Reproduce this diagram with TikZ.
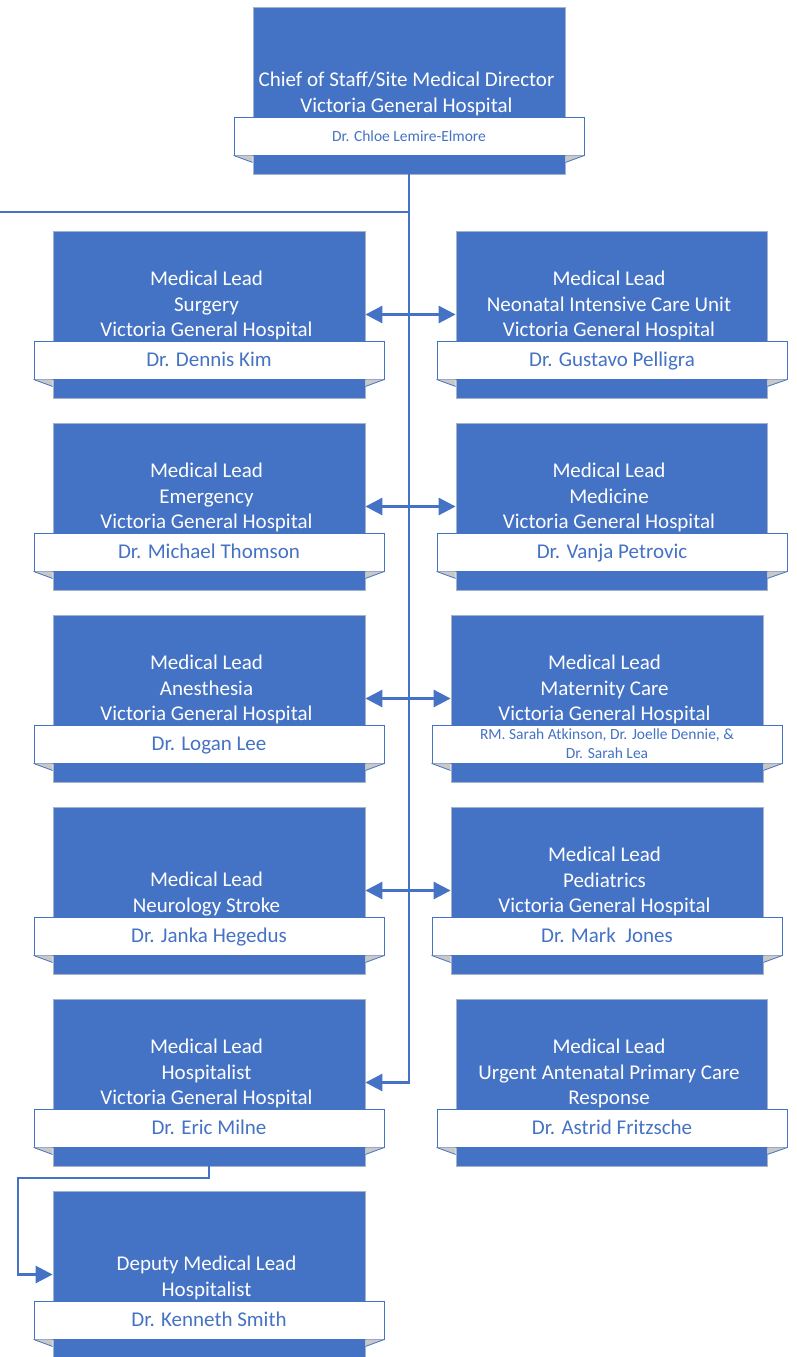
\documentclass[tikz,border=0pt]{standalone}
\usepackage{fontspec}
\setmainfont{Carlito}
\usetikzlibrary{arrows.meta,calc}
\definecolor{accent}{RGB}{68,114,196}
\definecolor{boxedge}{RGB}{165,178,204}
\definecolor{foldgrey}{RGB}{200,200,200}
\newcommand\orgbig{\fontsize{21}{25.8}\selectfont}
\newcommand\orgsmall{\fontsize{15.5}{19}\selectfont}
\tikzset{
  unitbox/.style={draw=boxedge, line width=0.8pt, fill=accent, minimum height=167pt, inner sep=0pt},
  nametag/.style={draw=accent, line width=0.9pt, fill=white, minimum width=350pt, minimum height=38pt, inner sep=0pt, text=accent, align=center, font=\orgbig, text height=17pt, text depth=3.7pt},
  tagextra/.style={},
  titletext/.style={text=white, align=center, font=\orgbig, inner sep=0pt},
  fold/.style={fill=foldgrey},
  foldedge/.style={draw=accent, line width=0.8pt},
  conn/.style={draw=accent, line width=2.8pt},
  >={Triangle[length=17pt,width=17pt]}
}
% #1 name, #2 box centre x, #3 box top y, #4 box width, #5 tag centre x,
% #6 title centre offset, #7 title, #8 name tag text
\newcommand\orgunit[8]{%
  \node[unitbox, minimum width=#4] (#1) at (#2,#3+83.5) {};
  \node[titletext] (#1t) at (#2-2.5,#3+#6) {#7};
  \node[nametag, tagextra] (#1n) at (#5,#3+129) {#8};
  \fill[fold] (#1n.south west) -- (#1.west |- #1n.south) -- ($(#1.west |- #1n.south)+(0,7)$) -- cycle;
  \fill[fold] (#1n.south east) -- (#1.east |- #1n.south) -- ($(#1.east |- #1n.south)+(0,7)$) -- cycle;
  \draw[foldedge] (#1n.south west) -- ($(#1.west |- #1n.south)+(0,7)$);
  \draw[foldedge] (#1n.south east) -- ($(#1.east |- #1n.south)+(0,7)$);
}
\begin{document}
\begin{tikzpicture}[x=1pt,y=-1pt]
\useasboundingbox (0,0) rectangle (796,1357);

\tikzset{tagextra/.style={font=\orgsmall, text height=12.5pt, text depth=2.5pt}}
\orgunit{top}{409}{7}{312pt}{409}{87}{Chief of Staff/Site Medical Director\\Victoria General Hospital}{Dr. Chloe Lemire-Elmore}
\tikzset{tagextra/.style={}}

\orgunit{u1}{209}{231}{312pt}{209}{74.5}{Medical Lead\\Surgery\\Victoria General Hospital}{Dr. Dennis Kim}
\orgunit{u2}{611.5}{231}{311pt}{612}{74.5}{Medical Lead\\Neonatal Intensive Care Unit\\Victoria General Hospital}{Dr. Gustavo Pelligra}

\orgunit{u3}{209}{423}{312pt}{209}{74.5}{Medical Lead\\Emergency\\Victoria General Hospital}{Dr. Michael Thomson}
\orgunit{u4}{611.5}{423}{311pt}{612}{74.5}{Medical Lead\\Medicine\\Victoria General Hospital}{Dr. Vanja Petrovic}

\orgunit{u5}{209}{615}{312pt}{209}{74.5}{Medical Lead\\Anesthesia\\Victoria General Hospital}{Dr. Logan Lee}
\tikzset{tagextra/.style={font=\orgsmall, text height={}, text depth={}}}
\orgunit{u6}{607}{615}{312pt}{607}{74.5}{Medical Lead\\Maternity Care\\Victoria General Hospital}{RM. Sarah Atkinson, Dr. Joelle Dennie, \&\\Dr. Sarah Lea}
\tikzset{tagextra/.style={}}

\orgunit{u7}{209}{807}{312pt}{209}{87}{Medical Lead\\Neurology Stroke}{Dr. Janka Hegedus}
\orgunit{u8}{607}{807}{312pt}{607}{74.5}{Medical Lead\\Pediatrics\\Victoria General Hospital}{Dr. Mark\ \ Jones}

\orgunit{u9}{209}{999}{312pt}{209}{74.5}{Medical Lead\\Hospitalist\\Victoria General Hospital}{Dr. Eric Milne}
\orgunit{u10}{611.5}{999}{311pt}{612}{74.5}{Medical Lead\\Urgent Antenatal Primary Care\\Response}{Dr. Astrid Fritzsche}

\orgunit{u11}{209}{1191}{312pt}{209}{87}{Deputy Medical Lead\\Hospitalist}{Dr. Kenneth Smith}

% connectors
\coordinate (hl) at (0,212);
\draw[conn] (hl) -- (top.south |- hl);
\draw[conn,->] (top.south) |- (u9.east);
\draw[conn,<->] (u1.east) -- (u2.west);
\draw[conn,<->] (u3.east) -- (u4.west);
\draw[conn,<->] (u5.east) -- (u6.west);
\draw[conn,<->] (u7.east) -- (u8.west);
\coordinate (bend) at (18,1178);
\draw[conn,->] (u9.south) |- (bend) |- (u11.west);
\end{tikzpicture}
\end{document}
